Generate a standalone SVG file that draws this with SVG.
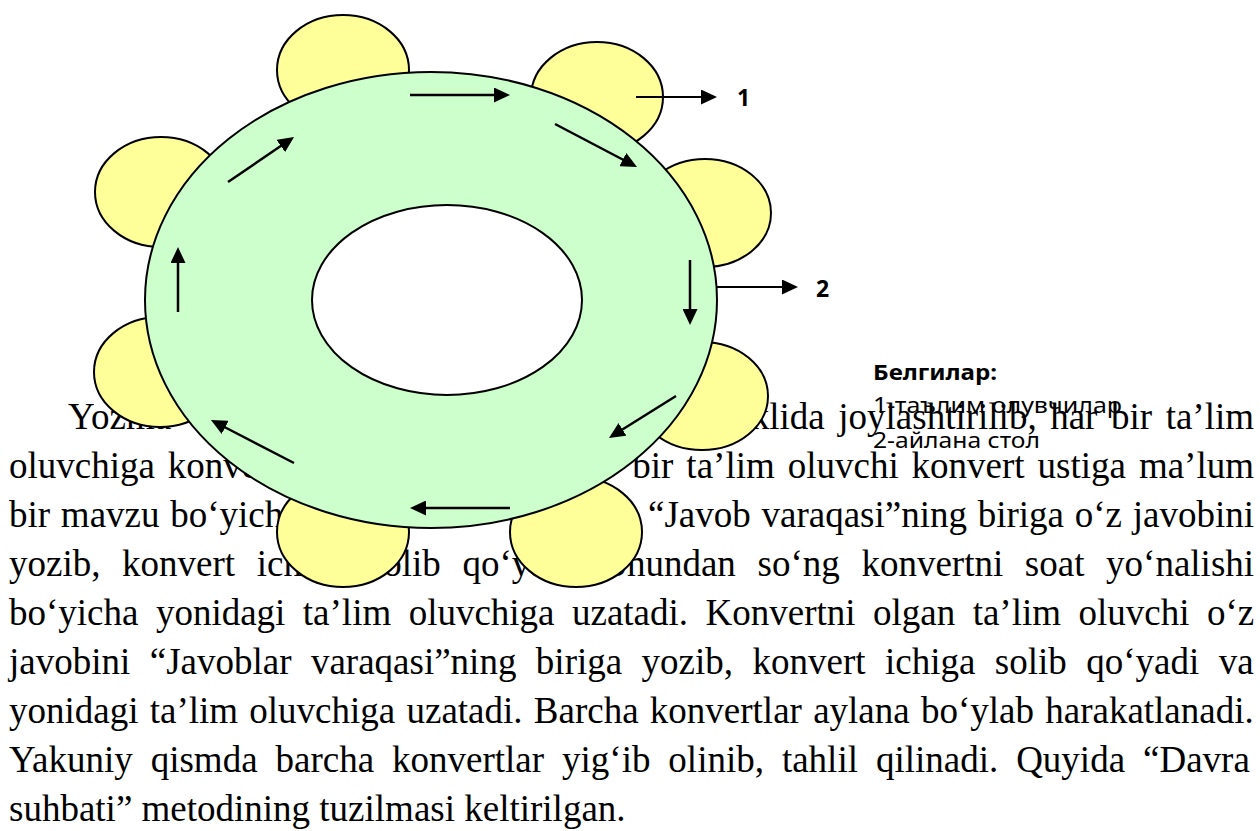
<svg xmlns="http://www.w3.org/2000/svg" width="1260" height="831" viewBox="0 0 1260 831">
  <defs>
    <style>
      .para { font-family: "Liberation Serif", "Times New Roman", serif; font-size: 37px; fill: #000; }
      .seat { fill: #FFFF99; stroke: #000; stroke-width: 2; }
      .table { fill: #CCFFCC; stroke: #000; stroke-width: 2; }
      .hole { fill: #FFFFFF; stroke: #000; stroke-width: 2; }
      .flow { stroke: #000; stroke-width: 2.5; fill: none; marker-end: url(#head); }
      .lead { stroke: #000; stroke-width: 2; fill: none; marker-end: url(#head); }
      .num { font-family: "Noto Sans", "Open Sans", sans-serif; font-weight: bold; font-size: 23px; fill: #000; }
      .leg { font-family: "Noto Sans", "Open Sans", sans-serif; font-size: 22px; fill: #000; }
    </style>
    <marker id="head" markerUnits="userSpaceOnUse" markerWidth="16" markerHeight="15" refX="3" refY="7.5" orient="auto">
      <path d="M0,0 L16,7.5 L0,15 z" fill="#000"/>
    </marker>
  </defs>
  <rect width="1260" height="831" fill="#FFFFFF"/>

  <g id="paragraph" class="para">
    <text x="68" y="429">Yozma</text>
    <text x="1254" y="429" text-anchor="end" word-spacing="4.3">klida joylashtirilib, har bir ta’lim</text>
    <text x="9" y="478" word-spacing="3.7">oluvchiga konvert</text>
    <text x="1254" y="478" text-anchor="end" word-spacing="3.7">bir ta’lim oluvchi konvert ustiga ma’lum</text>
    <text x="9" y="527" word-spacing="1.5">bir mavzu bo‘yicha</text>
    <text x="1254" y="527" text-anchor="end" word-spacing="1.5">“Javob varaqasi”ning biriga o‘z javobini</text>
    <text x="9" y="576" word-spacing="12.4">yozib, konvert ichiga solib qo‘yadi. Shundan so‘ng konvertni soat yo‘nalishi</text>
    <text x="9" y="625" word-spacing="8.2">bo‘yicha yonidagi ta’lim oluvchiga uzatadi. Konvertni olgan ta’lim oluvchi o‘z</text>
    <text x="9" y="674" word-spacing="10.2">javobini “Javoblar varaqasi”ning biriga yozib, konvert ichiga solib qo‘yadi va</text>
    <text x="9" y="723" word-spacing="2">yonidagi ta’lim oluvchiga uzatadi. Barcha konvertlar aylana bo‘ylab harakatlanadi.</text>
    <text x="9" y="772" word-spacing="8.7">Yakuniy qismda barcha konvertlar yig‘ib olinib, tahlil qilinadi. Quyida “Davra</text>
    <text x="9" y="821">suhbati” metodining tuzilmasi keltirilgan.</text>
  </g>

  <g id="seat-1"><ellipse class="seat" cx="343" cy="70" rx="66" ry="55"/></g>
  <g id="seat-2"><ellipse class="seat" cx="597" cy="97" rx="66" ry="55"/></g>
  <g id="seat-3"><ellipse class="seat" cx="705" cy="213" rx="66" ry="54"/></g>
  <g id="seat-4"><ellipse class="seat" cx="702" cy="396" rx="66" ry="54"/></g>
  <g id="seat-5"><ellipse class="seat" cx="576" cy="532" rx="66" ry="55"/></g>
  <g id="seat-6"><ellipse class="seat" cx="343" cy="532" rx="66" ry="55"/></g>
  <g id="seat-7"><ellipse class="seat" cx="160" cy="372" rx="66" ry="55"/></g>
  <g id="seat-8"><ellipse class="seat" cx="161" cy="192" rx="66" ry="55"/></g>

  <g id="round-table">
    <ellipse class="table" cx="431" cy="300" rx="286" ry="228"/>
    <ellipse class="hole" cx="447" cy="300" rx="135" ry="95"/>
  </g>

  <g id="connectors">
    <line class="flow" x1="410" y1="95" x2="497" y2="95"/>
    <line class="flow" x1="555" y1="124" x2="625.5" y2="161"/>
    <line class="flow" x1="690" y1="260" x2="690" y2="312"/>
    <line class="flow" x1="676" y1="396" x2="620" y2="431"/>
    <line class="flow" x1="510" y1="508" x2="423" y2="508"/>
    <line class="flow" x1="294" y1="463" x2="222.5" y2="426"/>
    <line class="flow" x1="178" y1="312" x2="178" y2="260"/>
    <line class="flow" x1="228" y1="182" x2="283.3" y2="144.3"/>
    <line class="lead" x1="636" y1="97" x2="704" y2="97"/>
    <line class="lead" x1="717" y1="287" x2="785" y2="287"/>
  </g>

  <g id="label-1"><text class="num" x="737" y="106">1</text></g>
  <g id="label-2"><text class="num" x="816" y="297">2</text></g>

  <g id="legend">
    <text class="leg" x="873" y="380" font-weight="bold" textLength="124" lengthAdjust="spacingAndGlyphs">Белгилар:</text>
    <text class="leg" x="873" y="413" textLength="249" lengthAdjust="spacingAndGlyphs">1-таълим олувчилар</text>
    <text class="leg" x="873" y="448" textLength="167" lengthAdjust="spacingAndGlyphs">2-айлана стол</text>
  </g>
</svg>
